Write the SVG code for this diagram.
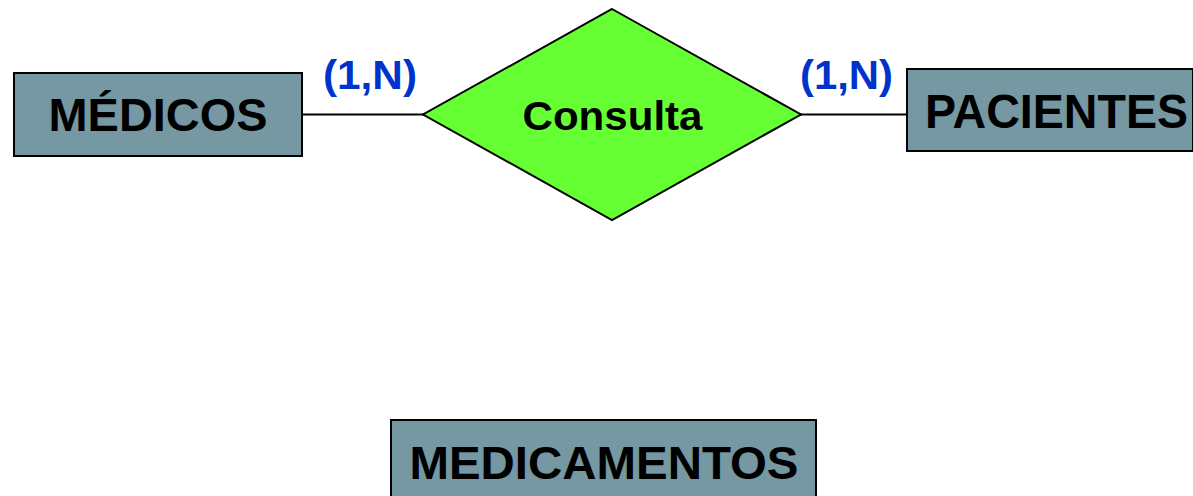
<svg xmlns="http://www.w3.org/2000/svg" width="1193" height="496" viewBox="0 0 1193 496">
<style>
.ent{fill:#7598A3;stroke:#000;stroke-width:2}
.et{font-family:"Liberation Sans",Arial,sans-serif;font-weight:bold;font-size:47px;fill:#000;text-anchor:middle}
.card{font-family:"Liberation Sans",Arial,sans-serif;font-weight:bold;font-size:40px;fill:#0033CC}
.ln{stroke:#000;stroke-width:2;fill:none}
</style>
<rect width="1193" height="496" fill="#fff"/>
<g id="connectors">
<line class="ln" x1="302" y1="114.5" x2="424" y2="114.5"/>
<line class="ln" x1="800" y1="114.5" x2="907" y2="114.5"/>
<text class="card" x="323" y="89" textLength="94" lengthAdjust="spacingAndGlyphs">(1,N)</text>
<text class="card" x="800" y="89" textLength="93" lengthAdjust="spacingAndGlyphs">(1,N)</text>
</g>
<g id="medicos">
<rect class="ent" x="14" y="73" width="288" height="83"/>
<text class="et" x="158" y="131" textLength="219" lengthAdjust="spacingAndGlyphs">MÉDICOS</text>
</g>
<g id="consulta">
<polygon points="612,9 801,114.5 612,220 423,114.5" fill="#66FF33" stroke="#000" stroke-width="2"/>
<text x="612.5" y="130" font-family="Liberation Sans,Arial,sans-serif" font-weight="bold" font-size="40.5" text-anchor="middle" textLength="180" lengthAdjust="spacingAndGlyphs">Consulta</text>
</g>
<g id="pacientes">
<rect class="ent" x="907" y="69" width="286" height="82"/>
<text class="et" x="1056.5" y="128" font-size="49" style="font-size:49px" textLength="263" lengthAdjust="spacingAndGlyphs">PACIENTES</text>
</g>
<g id="medicamentos">
<rect class="ent" x="391" y="420" width="425" height="90"/>
<text class="et" x="604" y="479" textLength="389" lengthAdjust="spacingAndGlyphs">MEDICAMENTOS</text>
</g>
</svg>
